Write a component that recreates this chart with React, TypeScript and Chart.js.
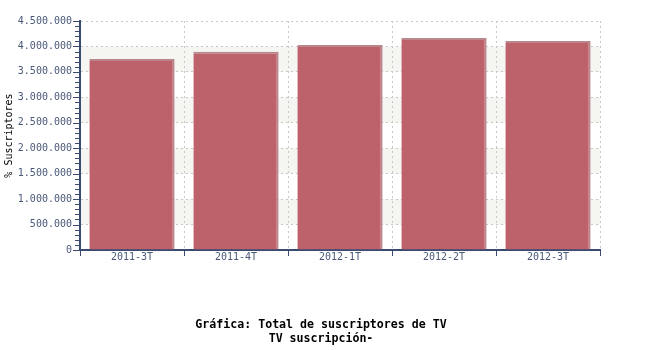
import React, { useEffect, useRef } from "react";
import { Chart, registerables } from "chart.js";

Chart.register(...registerables);

const categories = ["2011-3T", "2011-4T", "2012-1T", "2012-2T", "2012-3T"];
const subscribers = [3755000, 3895000, 4030000, 4165000, 4105000];
const yMax = 4500000;
const majorStep = 500000;
const minorStep = 100000;
const bandRanges = [
  [500000, 1000000],
  [1500000, 2000000],
  [2500000, 3000000],
  [3500000, 4000000],
];
const titleLines = ["Gráfica: Total de suscriptores de TV", "TV suscripción-"];
const yAxisTitle = "% Suscriptores";

const FONT = "'DejaVu Sans Mono', monospace";
const AXIS = "#3b4a70";
const TICK_TEXT = "#4a5878";

function fmt(v: number): string {
  const s = Math.round(v).toString();
  return s.replace(/\B(?=(\d{3})+(?!\d))/g, ".");
}

const decorPlugin = {
  id: "decor",
  beforeDraw(chart: any) {
    const { ctx, chartArea, scales } = chart;
    const y = scales.y;
    ctx.save();
    ctx.fillStyle = "#f5f5f1";
    for (const [a, b] of bandRanges) {
      const top = y.getPixelForValue(b);
      const bot = y.getPixelForValue(a);
      ctx.fillRect(chartArea.left, top, chartArea.right - chartArea.left, bot - top);
    }
    ctx.restore();
  },
  afterDraw(chart: any) {
    const { ctx, chartArea, scales } = chart;
    const y = scales.y;
    const x = scales.x;
    ctx.save();
    ctx.strokeStyle = AXIS;
    ctx.lineWidth = 1;
    ctx.beginPath();
    for (let v = 0; v <= yMax; v += minorStep) {
      const py = Math.round(y.getPixelForValue(v)) + 0.5;
      const len = v % majorStep === 0 ? 7 : 5;
      ctx.moveTo(chartArea.left - len, py);
      ctx.lineTo(chartArea.left, py);
    }
    const n = categories.length;
    for (let i = 0; i <= n; i++) {
      const px = Math.round(x.getPixelForValue(i - 0.5)) + 0.5;
      ctx.moveTo(px, chartArea.bottom);
      ctx.lineTo(px, chartArea.bottom + 6);
    }
    ctx.stroke();
    ctx.restore();
  },
};

export default function App() {
  const ref = useRef<HTMLCanvasElement | null>(null);
  useEffect(() => {
    if (!ref.current) return;
    const chart = new Chart(ref.current, {
      type: "bar",
      data: {
        labels: categories,
        datasets: [
          {
            data: subscribers,
            backgroundColor: "#bd616b",
            borderColor: "#b9868c",
            borderWidth: { top: 2, right: 2, left: 0, bottom: 0 } as any,
            borderSkipped: "start" as any,
            barPercentage: 0.82,
            categoryPercentage: 1,
          },
        ],
      },
      plugins: [decorPlugin],
      options: {
        animation: false,
        responsive: false,
        maintainAspectRatio: false,
        layout: { padding: { top: 21, right: 8, left: 0, bottom: 0 } },
        plugins: {
          legend: { display: false },
          tooltip: { enabled: false },
          title: {
            display: true,
            position: "bottom",
            text: titleLines,
            color: "#000",
            font: { family: FONT, size: 11.6, weight: "bold", lineHeight: 14 / 11.6 },
            padding: { top: 38, bottom: 4 },
          },
        },
        scales: {
          x: {
            offset: true,
            grid: {
              offset: true,
              drawTicks: false,
              color: "#c8c8c8",
            } as any,
            border: { color: AXIS, width: 2, dash: [2, 3] } as any,
            ticks: { font: { family: FONT, size: 10 }, color: TICK_TEXT, padding: 1 },
            afterFit(scale: any) {
              scale.height = 30;
            },
          },
          y: {
            min: 0,
            max: yMax,
            grid: { drawTicks: false, color: "#c8c8c8" },
            border: { color: AXIS, width: 2, dash: [2, 3] } as any,
            ticks: {
              stepSize: majorStep,
              font: { family: FONT, size: 10 },
              color: TICK_TEXT,
              padding: 8,
              callback: (v: any) => fmt(Number(v)),
            },
            title: {
              display: true,
              text: yAxisTitle,
              color: "#000",
              font: { family: FONT, size: 10 },
              padding: { top: 3, bottom: 0 },
            },
            afterFit(scale: any) {
              scale.width = 80;
            },
          },
          spacer: {
            type: "linear",
            position: "right",
            display: true,
            grid: { display: false, drawTicks: false },
            border: { display: false },
            ticks: { display: false },
            afterFit(scale: any) {
              scale.width = 42;
            },
          } as any,
        },
      },
    });
    return () => chart.destroy();
  }, []);
  return (
    <div style={{ position: "fixed", left: 0, top: 0, width: 650, height: 350, background: "#fff" }}>
      <canvas ref={ref} width={650} height={350} style={{ width: 650, height: 350 }} />
    </div>
  );
}
